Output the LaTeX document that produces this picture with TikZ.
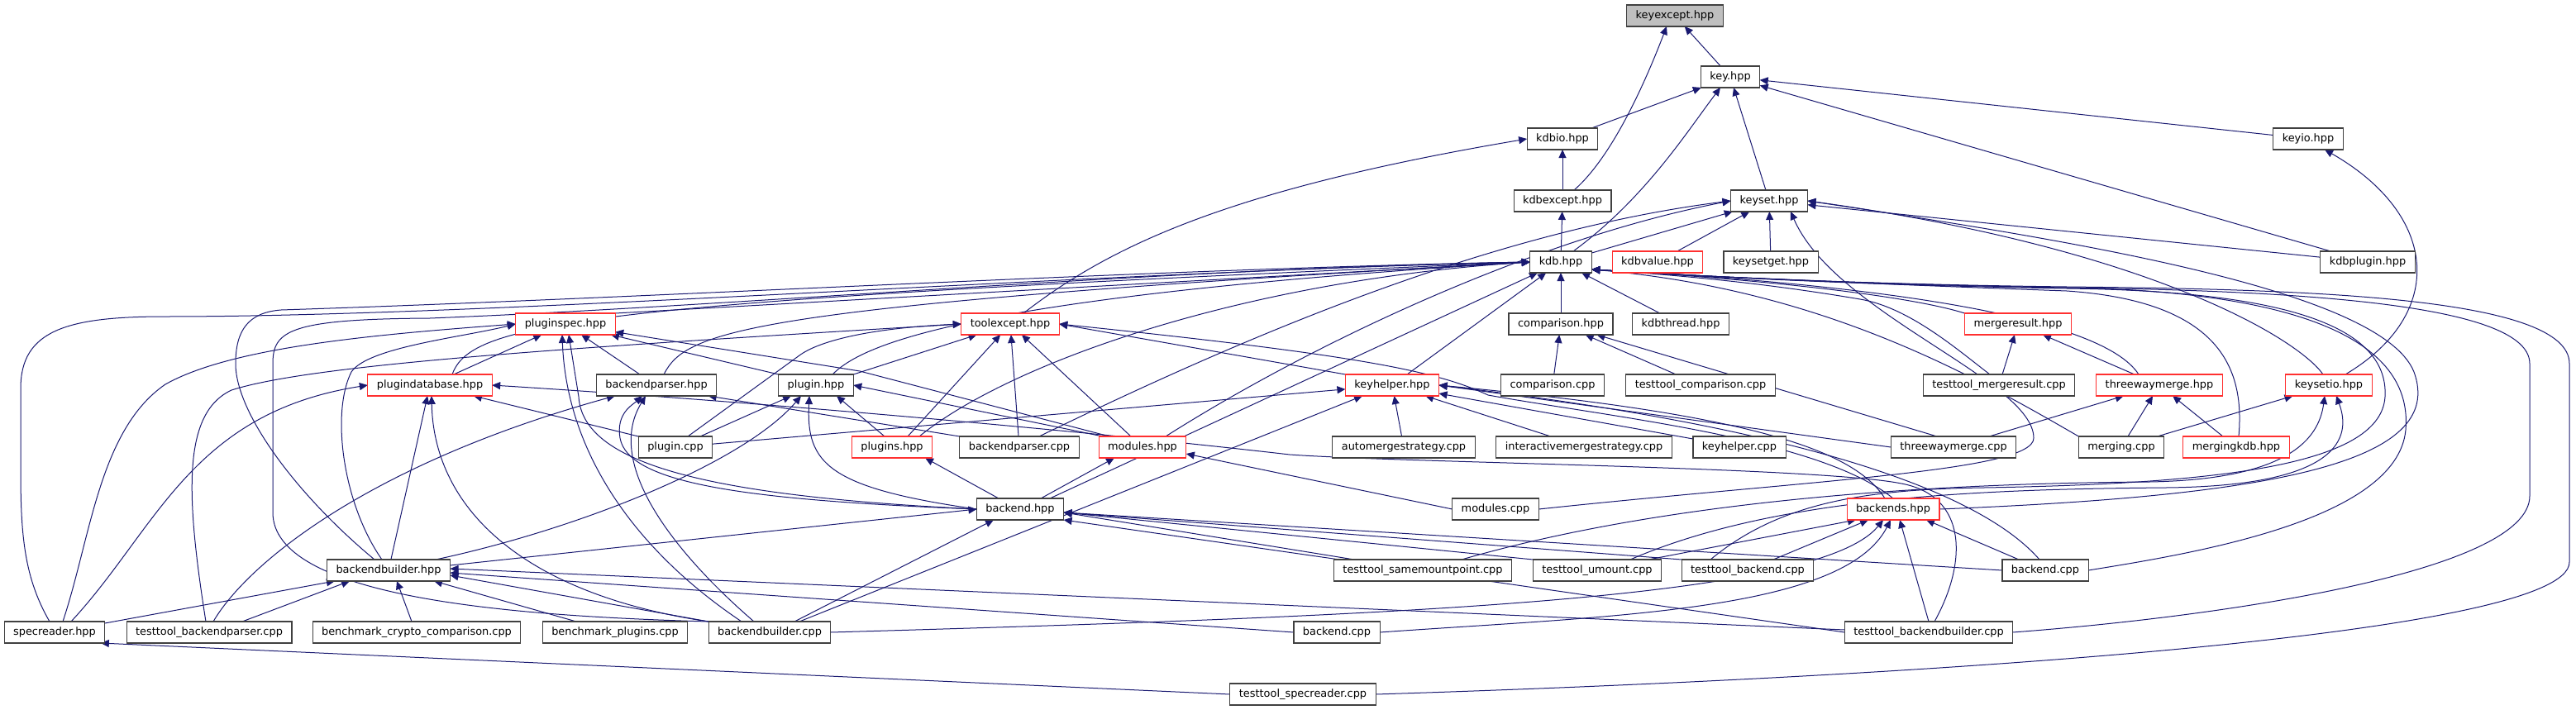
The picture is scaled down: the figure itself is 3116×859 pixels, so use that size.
\documentclass[tikz,border=0pt]{standalone}
\usepackage{fontspec}
\setmainfont{DejaVu Sans}
\usetikzlibrary{arrows.meta}
\definecolor{edgeblue}{HTML}{191970}
\definecolor{redb}{HTML}{FF3030}
\definecolor{grayfill}{HTML}{BFBFBF}
\definecolor{boxline}{HTML}{404040}
\pgfdeclarelayer{bg}
\pgfsetlayers{bg,main}
\begin{document}
\begin{tikzpicture}[x=1pt,y=-1pt,
  box/.style={draw=boxline, line width=1.1pt, fill=white, rectangle, minimum height=26pt, inner xsep=11pt, inner ysep=0pt, text height=9.6pt, text depth=2.9pt, font=\fontsize{12.9}{15}\selectfont, outer sep=0pt},
  rbox/.style={box, draw=redb},
  gbox/.style={box, fill=grayfill},
  edg/.style={draw=edgeblue, line width=1pt, -{Triangle[length=10pt,width=9pt]}},
]
\useasboundingbox (0,0) rectangle (3116,859);
% nodes
\node[gbox] (keyexcept) at (2026,19) {keyexcept.hpp};
\node[box] (key) at (2093,93) {key.hpp};
\node[box] (kdbio) at (1890,168) {kdbio.hpp};
\node[box] (keyio) at (2792,168) {keyio.hpp};
\node[box] (kdbexcept) at (1890,243) {kdbexcept.hpp};
\node[box] (keyset) at (2140,243) {keyset.hpp};
\node[box] (kdb) at (1888,317) {kdb.hpp};
\node[rbox] (kdbvalue) at (2005,317) {kdbvalue.hpp};
\node[box] (keysetget) at (2142,317) {keysetget.hpp};
\node[box] (kdbplugin) at (2864,317) {kdbplugin.hpp};
\node[rbox] (pluginspec) at (684,392) {pluginspec.hpp};
\node[rbox] (toolexcept) at (1222,392) {toolexcept.hpp};
\node[box] (comparisonh) at (1888,392) {comparison.hpp};
\node[box] (kdbthread) at (2033,392) {kdbthread.hpp};
\node[rbox] (mergeresult) at (2441,392) {mergeresult.hpp};
\node[rbox] (plugindatabase) at (520,466) {plugindatabase.hpp};
\node[box] (backendparserh) at (794,466) {backendparser.hpp};
\node[box] (pluginh) at (987,466) {plugin.hpp};
\node[rbox] (keyhelper) at (1684,466) {keyhelper.hpp};
\node[box] (comparisoncpp) at (1878,466) {comparison.cpp};
\node[box] (ttcomparison) at (2057,466) {testtool\_comparison.cpp};
\node[box] (ttmergeresult) at (2418,466) {testtool\_mergeresult.cpp};
\node[rbox] (threewaymergeh) at (2612,466) {threewaymerge.hpp};
\node[rbox] (keysetio) at (2817,466) {keysetio.hpp};
\node[box] (plugincpp) at (817,541) {plugin.cpp};
\node[rbox] (pluginsh) at (1079,541) {plugins.hpp};
\node[box] (backendparsercpp) at (1233,541) {backendparser.cpp};
\node[rbox] (modulesh) at (1382,541) {modules.hpp};
\node[box] (automerge) at (1698,541) {automergestrategy.cpp};
\node[box] (interactive) at (1916,541) {interactivemergestrategy.cpp};
\node[box] (keyhelpercpp) at (2104,541) {keyhelper.cpp};
\node[box] (threewaymergecpp) at (2363,541) {threewaymerge.cpp};
\node[box] (mergingcpp) at (2566,541) {merging.cpp};
\node[rbox] (mergingkdb) at (2705,541) {mergingkdb.hpp};
\node[box] (backendh) at (1234,616) {backend.hpp};
\node[box] (modulescpp) at (1809,616) {modules.cpp};
\node[rbox] (backendsh) at (2290,616) {backends.hpp};
\node[box] (backendbuilderh) at (470,690) {backendbuilder.hpp};
\node[box] (ttsamemount) at (1721,690) {testtool\_samemountpoint.cpp};
\node[box] (ttumount) at (1932,690) {testtool\_umount.cpp};
\node[box] (ttbackend) at (2114,690) {testtool\_backend.cpp};
\node[box] (backendcppA) at (2474,690) {backend.cpp};
\node[box] (specreader) at (66,765) {specreader.hpp};
\node[box] (ttbackendparser) at (253,765) {testtool\_backendparser.cpp};
\node[box] (benchcrypto) at (504,765) {benchmark\_crypto\_comparison.cpp};
\node[box] (benchplugins) at (744,765) {benchmark\_plugins.cpp};
\node[box] (backendbuildercpp) at (931,765) {backendbuilder.cpp};
\node[box] (backendcppB) at (1617,765) {backend.cpp};
\node[box] (ttbackendbuilder) at (2333,765) {testtool\_backendbuilder.cpp};
\node[box] (ttspecreader) at (1576,840) {testtool\_specreader.cpp};
\coordinate (kdbR) at ([yshift=-9pt]kdb.east);

\begin{pgfonlayer}{bg}
% top part
\draw[edg] (key) -- (keyexcept);
\draw[edg] ([xshift=14pt]kdbexcept.north) .. controls (1950,190) and (1990,100) .. ([xshift=-10pt]keyexcept.south);
\draw[edg] (kdbio) -- (key);
\draw[edg] (keyset) -- (key);
\draw[edg] ([xshift=15pt]kdb.north) .. controls (1990,240) and (2040,160) .. ([xshift=-12pt]key.south);
\draw[edg] (keyio) -- (key);
\draw[edg] (kdbplugin) -- (key);
\draw[edg] (kdbexcept) -- (kdbio);
\draw[edg] ([xshift=16pt]toolexcept.north) .. controls (1340,300) and (1480,230) .. (kdbio.west);
\draw[edg] (kdb) -- (keyset);
\draw[edg] (kdb) -- (kdbexcept);
\draw[edg] (kdbvalue) -- (keyset);
\draw[edg] (keysetget) -- (keyset);
\draw[edg] (kdbplugin) -- (keyset);
\draw[edg] ([xshift=-7pt]keysetio.north) .. controls (2780,410) and (2600,300) .. (keyset.east);
\draw[edg] ([xshift=20pt]keysetio.north) .. controls (2960,380) and (2950,260) .. ([xshift=20pt]keyio.south);
\draw[edg] ([xshift=28pt]modulesh.north) .. controls (1580,420) and (1850,290) .. (keyset.west);
\draw[edg] ([xshift=24pt]backendparsercpp.north) .. controls (1500,410) and (1800,280) .. (keyset.west);
\draw[edg] (backendsh.east) .. controls (2750,600) and (2960,560) .. (2920,450) .. controls (2880,350) and (2500,290) .. (keyset.east);
\draw[edg] (modulescpp.east) .. controls (2200,580) and (2460,570) .. (2460,530) .. controls (2460,460) and (2220,380) .. ([xshift=26pt]keyset.south);
% kdb incoming
\draw[edg] (comparisonh) -- (kdb);
\draw[edg] (kdbthread) -- (kdb);
\draw[edg] ([xshift=18pt]keyhelper.north) -- (kdb);
\draw[edg] (pluginspec.north east) -- (kdb.west);
\draw[edg] ([xshift=27pt]plugindatabase.north) .. controls (570,390) and (700,365) .. (kdb.west);
\draw[edg] ([xshift=9pt]backendparserh.north) .. controls (830,400) and (900,370) .. (kdb.west);
\draw[edg] ([xshift=20pt]pluginh.north) .. controls (1040,420) and (1150,360) .. (kdb.west);
\draw[edg] ([xshift=33pt]pluginsh.north) .. controls (1220,440) and (1500,340) .. (kdb.west);
\draw[edg] ([xshift=-6pt]specreader.north) .. controls (30,700) and (25,650) .. (25,570) -- (25,470) .. controls (25,400) and (80,383) .. (200,383) .. controls (600,383) and (1300,330) .. (kdb.west);
\draw[edg] ([xshift=-17pt]backendbuilderh.north) .. controls (360,600) and (285,500) .. (285,440) .. controls (285,400) and (300,378) .. (340,375) .. controls (800,360) and (1400,325) .. (kdb.west);
\draw[edg] (backendbuildercpp.north west) .. controls (600,745) and (330,720) .. (330,620) -- (330,440) .. controls (330,400) and (350,386) .. (520,385) .. controls (900,370) and (1400,325) .. (kdb.west);
\draw[edg] ([xshift=36pt]backendh.north) -- (kdb);
\draw[edg] (mergeresult.north west) .. controls (2300,355) and (2100,336) .. (kdbR);
\draw[edg] ([xshift=-11pt]ttmergeresult.north) .. controls (2370,425) and (2310,372) .. (2250,362) .. controls (2150,345) and (2050,334) .. (kdbR);
\draw[edg] ([xshift=-25pt]threewaymergeh.north) .. controls (2540,380) and (2250,343) .. (kdbR);
\draw[edg] ([xshift=3pt]mergingkdb.north) .. controls (2715,450) and (2690,365) .. (2500,352) .. controls (2250,343) and (2050,334) .. (kdbR);
\draw[edg] (mergingcpp.north west) .. controls (2380,450) and (2200,350) .. (kdbR);
\draw[edg] (backendcppA.east) .. controls (2650,670) and (2900,630) .. (2910,520) .. controls (2920,400) and (2750,352) .. (2500,348) .. controls (2250,344) and (2050,334) .. (kdbR);
\draw[edg] (ttbackendbuilder.east) .. controls (2700,745) and (3060,690) .. (3060,600) -- (3060,440) .. controls (3060,370) and (2800,352) .. (2500,348) .. controls (2250,344) and (2050,334) .. (kdbR);
\draw[edg] (ttspecreader.east) .. controls (2300,820) and (3108,770) .. (3108,680) -- (3108,440) .. controls (3108,360) and (2800,350) .. (2500,347) .. controls (2250,344) and (2050,334) .. (kdbR);
\draw[edg] ([xshift=-45pt]ttbackend.north) .. controls (2150,610) and (2250,592) .. (2400,590) .. controls (2700,585) and (2880,560) .. (2885,480) .. controls (2890,390) and (2750,352) .. (2500,349) .. controls (2250,345) and (2050,334) .. (kdbR);
% merge related
\draw[edg] (comparisoncpp) -- (comparisonh);
\draw[edg] (ttcomparison) -- (comparisonh);
\draw[edg] ([xshift=-20pt]threewaymergecpp.north) -- (comparisonh);
\draw[edg] (ttmergeresult) -- (mergeresult);
\draw[edg] (threewaymergeh) -- (mergeresult);
\draw[edg] (threewaymergecpp) -- (threewaymergeh);
\draw[edg] (mergingcpp) -- (threewaymergeh);
\draw[edg] (mergingkdb) -- (threewaymergeh);
\draw[edg] (mergingcpp) -- (keysetio);
\draw[edg] ([xshift=47pt]ttsamemount.north) .. controls (2000,610) and (2300,585) .. (2600,583) .. controls (2770,580) and (2805,530) .. ([xshift=-5pt]keysetio.south);
\draw[edg] ([xshift=40pt]ttumount.north) .. controls (2150,600) and (2400,592) .. (2620,590) .. controls (2830,588) and (2845,530) .. ([xshift=9pt]keysetio.south);
% keyhelper
\draw[edg] (keyhelpercpp) -- (keyhelper);
\draw[edg] (automerge) -- (keyhelper);
\draw[edg] (interactive) -- (keyhelper);
\draw[edg] (plugincpp) -- (keyhelper);
\draw[edg] ([xshift=36pt]backendbuildercpp.north) -- ([xshift=-36pt]keyhelper.south);
\draw[edg] ([xshift=-10pt]backendsh.north) .. controls (2240,540) and (2100,500) .. (keyhelper.east);
\draw[edg] (backendsh.north) .. controls (2200,530) and (1950,505) .. (1800,478) .. controls (1740,450) and (1650,430) .. (toolexcept.east);
\draw[edg] (threewaymergecpp.west) -- (keyhelper.east);
\draw[edg] ([xshift=-7pt]backendcppA.north) .. controls (2400,600) and (2200,520) .. (keyhelper.east);
\draw[edg] (keyhelper.north west) -- (toolexcept.east);
% toolexcept
\draw[edg] ([xshift=19pt]pluginsh.north) -- (toolexcept);
\draw[edg] (backendparsercpp) -- (toolexcept);
\draw[edg] ([xshift=-14pt]modulesh.north) -- (toolexcept);
\draw[edg] (pluginh.north east) -- (toolexcept);
\draw[edg] ([xshift=-4pt]ttbackendparser.north) .. controls (225,600) and (220,500) .. (280,472) .. controls (380,440) and (700,420) .. (toolexcept.west);
\draw[edg] ([xshift=15pt]plugincpp.north) -- (967,430) .. controls (990,413) and (1050,397) .. (toolexcept.west);
% pluginspec
\draw[edg] ([xshift=10pt]specreader.north) .. controls (110,650) and (120,520) .. (200,465) .. controls (280,420) and (450,405) .. (pluginspec.west);
\draw[edg] ([xshift=-8pt]backendbuilderh.north) .. controls (415,610) and (400,500) .. (425,450) .. controls (445,420) and (560,408) .. (pluginspec.west);
\draw[edg] (plugindatabase) -- (pluginspec);
\draw[edg] ([xshift=-20pt]backendparserh.north) -- (pluginspec);
\draw[edg] (pluginh.north west) -- (pluginspec);
\draw[edg] ([xshift=-40pt]modulesh.north) -- (1040,449) -- (pluginspec);
\draw[edg] (backendh.west) .. controls (850,600) and (705,560) .. (700,480) -- ([xshift=4pt]pluginspec.south);
\draw[edg] ([xshift=-34pt]backendbuildercpp.north) .. controls (760,660) and (685,540) .. ([xshift=-4pt]pluginspec.south);
% plugindatabase
\draw[edg] ([xshift=20pt]specreader.north) .. controls (190,640) and (230,500) .. (plugindatabase.west);
\draw[edg] (backendbuilderh) -- (plugindatabase);
\draw[edg] (backendbuildercpp.north west) .. controls (640,720) and (525,620) .. ([xshift=2pt]plugindatabase.south);
\draw[edg] (plugincpp.north west) -- (plugindatabase);
\draw[edg] ([xshift=7pt]ttbackendbuilder.north) .. controls (2380,680) and (2380,600) .. (2300,585) .. controls (2200,565) and (1700,560) .. (1560,550) .. controls (1300,520) and (900,485) .. (plugindatabase.east);
% backendparser.hpp
\draw[edg] ([xshift=5pt]ttbackendparser.north) .. controls (300,680) and (450,560) .. ([xshift=-50pt]backendparserh.south);
\draw[edg] (backendh.west) .. controls (900,605) and (760,585) .. (750,530) .. controls (745,500) and (765,490) .. ([xshift=-17pt]backendparserh.south);
\draw[edg] ([xshift=-19pt]backendbuildercpp.north) .. controls (840,690) and (725,570) .. ([xshift=-13pt]backendparserh.south);
\draw[edg] (backendparsercpp.north west) -- ([xshift=-10pt]backendparserh.south east);
% plugin.hpp
\draw[edg] ([xshift=30pt]plugincpp.north) -- ([xshift=-30pt]pluginh.south);
\draw[edg] ([xshift=-9pt]pluginsh.north) -- ([xshift=25pt]pluginh.south);
\draw[edg] ([xshift=57pt]backendbuilderh.north) .. controls (700,640) and (900,560) .. ([xshift=-18pt]pluginh.south);
\draw[edg] (backendh.west) .. controls (1000,590) and (975,560) .. ([xshift=-8pt]pluginh.south);
\draw[edg] ([xshift=-48pt]modulesh.north) -- (pluginh.east);
% backend.hpp
\draw[edg] ([xshift=-26pt]backendh.north) -- ([xshift=40pt]pluginsh.south);
\draw[edg] ([xshift=25pt]backendh.north) -- ([xshift=-34pt]modulesh.south);
\draw[edg] (modulescpp.west) -- ([yshift=-8pt]modulesh.east);
\draw[edg] ([yshift=6pt]backendbuilderh.east) -- (backendh.west);
\draw[edg] ([xshift=30pt]backendbuildercpp.north) -- ([xshift=-32pt]backendh.south);
\draw[edg] ([xshift=-83pt]ttsamemount.north) -- ([yshift=-4pt]backendh.east);
\draw[edg] (ttumount.north west) -- ([yshift=-4pt]backendh.east);
\draw[edg] (ttbackend.north west) -- ([yshift=-4pt]backendh.east);
\draw[edg] (backendcppA.west) -- ([yshift=-4pt]backendh.east);
\draw[edg] (ttbackendbuilder.west) -- (backendh.south east);
% backends.hpp
\draw[edg] ([xshift=62pt]ttumount.north) -- ([xshift=-45pt]backendsh.south);
\draw[edg] ([xshift=31pt]ttbackend.north) -- ([xshift=-30pt]backendsh.south);
\draw[edg] (backendcppB.east) .. controls (1950,745) and (2230,740) .. ([xshift=-3pt]backendsh.south);
\draw[edg] (backendbuildercpp.east) .. controls (1700,745) and (2200,725) .. ([xshift=-12pt]backendsh.south);
\draw[edg] (ttbackendbuilder.north) -- ([xshift=8pt]backendsh.south);
\draw[edg] ([xshift=-32pt]backendcppA.north) -- ([xshift=40pt]backendsh.south);
% backendbuilder.hpp
\draw[edg] ([yshift=-2pt]specreader.north east) -- ([xshift=-65pt]backendbuilderh.south);
\draw[edg] ([xshift=40pt]ttbackendparser.north) -- ([xshift=-47pt]backendbuilderh.south);
\draw[edg] ([xshift=-6pt]benchcrypto.north) -- ([xshift=10pt]backendbuilderh.south);
\draw[edg] ([xshift=-47pt]benchplugins.north) -- ([xshift=55pt]backendbuilderh.south);
\draw[edg] (backendbuildercpp.north west) -- ([yshift=-6pt]backendbuilderh.east);
\draw[edg] ([yshift=3pt]ttbackendbuilder.west) -- ([yshift=2pt]backendbuilderh.east);
\draw[edg] (backendcppB.west) -- ([yshift=-3pt]backendbuilderh.east);
\draw[edg] (ttspecreader.west) -- ([xshift=-5pt]specreader.south east);
\end{pgfonlayer}
\end{tikzpicture}
\end{document}
